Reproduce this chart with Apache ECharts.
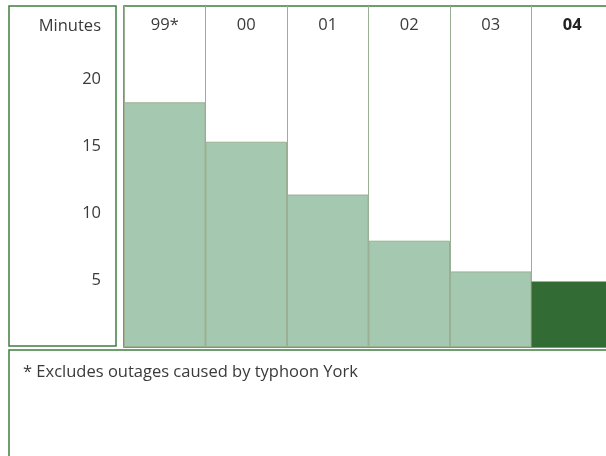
<!DOCTYPE html>
<html lang="en">
<head>
    <meta charset="UTF-8">
    <title>Minutes</title>
    <script src="https://cdn.jsdelivr.net/npm/echarts@6/dist/echarts.min.js"></script>
    <style>
        html, body { margin: 0; padding: 0; background: #fff; }
        #chart { width: 606px; height: 456px; }
    </style>
</head>
<body>
<div id="chart"></div>
<script>
    // data
    var years = ['99*', '00', '01', '02', '03', '04'];
    var minutes = [18.3, 15.35, 11.4, 7.95, 5.65, 4.9];
    var yTicks = [5, 10, 15, 20];
    var yName = 'Minutes';
    var footnote = '* Excludes outages caused by typhoon York';

    var lightGreen = '#a5c9b0';
    var darkGreen = '#336b35';
    var sepColor = '#9bb092';
    var boxColor = '#3f7d3f';
    var textColor = '#3a3a3a';
    var font = '"Open Sans", sans-serif';
    var fs = 16.5;

    var chart = echarts.init(document.getElementById('chart'));

    var barData = [];
    for (var i = 0; i < minutes.length; i++) {
        var last = i === minutes.length - 1;
        barData.push({
            value: minutes[i],
            itemStyle: last ? {color: darkGreen, borderWidth: 0}
                            : {color: lightGreen, borderColor: sepColor, borderWidth: 1}
        });
    }

    var option = {
        animation: false,
        grid: {
            left: 124, top: 6, width: 489, height: 341,
            outerBoundsMode: 'none',
            containLabel: false,
            show: true, borderColor: boxColor, borderWidth: 1.5,
            backgroundColor: '#fff'
        },
        xAxis: {
            type: 'category',
            position: 'top',
            data: years,
            axisLine: {show: false},
            axisTick: {show: false},
            splitLine: {show: true, lineStyle: {color: sepColor, width: 1}},
            axisLabel: {
                inside: true, margin: 11,
                color: textColor, fontFamily: font, fontSize: fs,
                formatter: function (v) {
                    return v === years[years.length - 1] ? '{b|' + v + '}' : v;
                },
                rich: {b: {fontWeight: 'bold', fontSize: fs, fontFamily: font, color: '#222'}}
            }
        },
        yAxis: {
            type: 'value',
            min: 0, max: 25.5,
            interval: 5,
            axisLine: {show: false},
            axisTick: {show: false},
            splitLine: {show: false},
            axisLabel: {
                customValues: yTicks,
                margin: 23,
                color: textColor, fontFamily: font, fontSize: fs
            }
        },
        series: [{
            type: 'bar',
            data: barData,
            barWidth: '100%',
            barGap: 0
        }],
        graphic: [
            {
                type: 'rect', z: -1,
                shape: {x: 9, y: 6, width: 107, height: 340},
                style: {fill: '#fff', stroke: boxColor, lineWidth: 1.5}
            },
            {
                type: 'rect',
                shape: {x: 9, y: 350, width: 610, height: 120},
                style: {fill: '#fff', stroke: boxColor, lineWidth: 1.5}
            },
            {
                type: 'text', x: 101, y: 26,
                style: {text: yName, align: 'right', verticalAlign: 'middle',
                        fill: textColor, font: fs + 'px ' + font}
            },
            {
                type: 'text', x: 23, y: 372,
                style: {text: footnote, align: 'left', verticalAlign: 'middle',
                        fill: textColor, font: fs + 'px ' + font}
            }
        ]
    };
    chart.setOption(option);
</script>
</body>
</html>
